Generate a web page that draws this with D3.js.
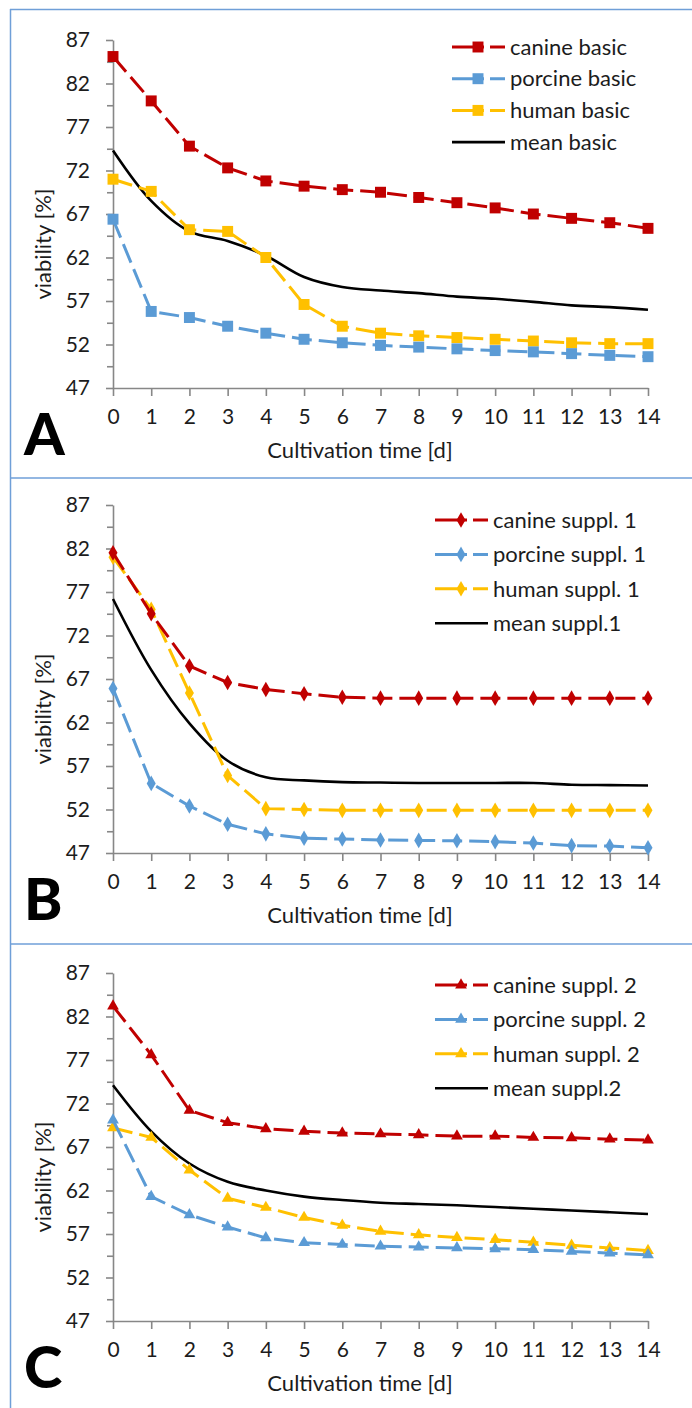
<!DOCTYPE html>
<html>
<head>
<meta charset="utf-8">
<script src="https://cdn.jsdelivr.net/npm/d3@7"></script>
<style>
  body { margin: 0; background: #fff; }
  svg { display: block; font-family: Lato, "Open Sans", sans-serif; }
</style>
</head>
<body>
<div id="datavis"></div>
<script>
// cultivation days and y ticks
const days = [0, 1, 2, 3, 4, 5, 6, 7, 8, 9, 10, 11, 12, 13, 14];
const yTicks = [47, 52, 57, 62, 67, 72, 77, 82, 87];

// A - basic medium
const canineBasic  = [85.1, 80.0, 74.8, 72.3, 70.8, 70.2, 69.8, 69.5, 68.9, 68.3, 67.7, 67.0, 66.5, 66.0, 65.35];
const porcineBasic = [66.4, 55.8, 55.1, 54.1, 53.3, 52.6, 52.2, 51.9, 51.7, 51.5, 51.3, 51.15, 50.95, 50.75, 50.6];
const humanBasic   = [71.0, 69.6, 65.2, 65.0, 62.0, 56.6, 54.1, 53.3, 53.0, 52.8, 52.6, 52.4, 52.2, 52.1, 52.1];
const meanBasic    = [74.3, 68.5, 65.0, 63.9, 62.2, 59.75, 58.6, 58.2, 57.9, 57.5, 57.25, 56.9, 56.5, 56.3, 56.0];

// B - supplement 1
const canineSuppl1  = [81.5, 74.5, 68.5, 66.6, 65.8, 65.3, 64.9, 64.8, 64.8, 64.8, 64.8, 64.8, 64.8, 64.8, 64.8];
const porcineSuppl1 = [65.9, 55.0, 52.4, 50.3, 49.2, 48.7, 48.6, 48.5, 48.45, 48.4, 48.3, 48.15, 47.85, 47.8, 47.6];
const humanSuppl1   = [81.0, 75.0, 65.4, 55.9, 52.1, 52.0, 51.9, 51.9, 51.9, 51.9, 51.9, 51.9, 51.9, 51.9, 51.9];
const meanSuppl1    = [76.2, 68.05, 61.9, 57.6, 55.7, 55.35, 55.15, 55.1, 55.05, 55.05, 55.05, 55.05, 54.85, 54.8, 54.75];

// C - supplement 2
const canineSuppl2  = [83.2, 77.6, 71.2, 69.8, 69.1, 68.8, 68.6, 68.5, 68.4, 68.25, 68.25, 68.1, 68.05, 67.9, 67.8];
const porcineSuppl2 = [70.1, 61.3, 59.2, 57.8, 56.55, 56.0, 55.8, 55.6, 55.5, 55.4, 55.3, 55.2, 55.0, 54.8, 54.6];
const humanSuppl2   = [69.2, 68.1, 64.35, 61.1, 60.05, 58.9, 58.0, 57.3, 56.9, 56.6, 56.35, 56.05, 55.7, 55.4, 55.1];
const meanSuppl2    = [74.1, 68.8, 65.1, 63.0, 62.0, 61.3, 60.9, 60.6, 60.45, 60.3, 60.1, 59.9, 59.7, 59.5, 59.3];

const RED = "#c00000", BLUE = "#5b9bd5", GOLD = "#ffc000";

const panels = [
  { letter: "A", top: 40, symbol: d3.symbolSquare, size: 120,
    legendX: 452, legendY: 47, legendStep: 31.7,
    series: [
      { name: "canine basic", values: canineBasic, color: RED },
      { name: "porcine basic", values: porcineBasic, color: BLUE },
      { name: "human basic", values: humanBasic, color: GOLD }],
    mean: { name: "mean basic", values: meanBasic } },
  { letter: "B", top: 505, symbol: d3.symbolDiamond, size: 70,
    legendX: 435, legendY: 520, legendStep: 34.4,
    series: [
      { name: "canine suppl. 1", values: canineSuppl1, color: RED },
      { name: "porcine suppl. 1", values: porcineSuppl1, color: BLUE },
      { name: "human suppl. 1", values: humanSuppl1, color: GOLD }],
    mean: { name: "mean suppl.1", values: meanSuppl1 } },
  { letter: "C", top: 973, symbol: d3.symbolTriangle, size: 60,
    legendX: 435, legendY: 985, legendStep: 34.4,
    series: [
      { name: "canine suppl. 2", values: canineSuppl2, color: RED },
      { name: "porcine suppl. 2", values: porcineSuppl2, color: BLUE },
      { name: "human suppl. 2", values: humanSuppl2, color: GOLD }],
    mean: { name: "mean suppl.2", values: meanSuppl2 } }
];

const W = 692, H = 1408;
const plotH = 348;

const svg = d3.select("#datavis")
  .append("svg")
  .attr("width", W)
  .attr("height", H);

// panel frame lines
const frame = svg.append("g")
  .attr("stroke", "#6f9fd8")
  .attr("stroke-width", 1.5)
  .attr("fill", "none");
frame.append("line").attr("x1", 10).attr("x2", W).attr("y1", 9.5).attr("y2", 9.5);
frame.append("line").attr("x1", 10.5).attr("x2", 10.5).attr("y1", 9).attr("y2", H);
frame.append("line").attr("x1", 10).attr("x2", W).attr("y1", 478).attr("y2", 478);
frame.append("line").attr("x1", 10).attr("x2", W).attr("y1", 944).attr("y2", 944);

const x = d3.scaleLinear().domain([0, 14]).range([113, 648]);
const minorTicks = yTicks.slice(1).map(v => v - 2.5);

panels.forEach(p => {
  const y = d3.scaleLinear().domain([47, 87]).range([p.top + plotH, p.top]);
  const g = svg.append("g");

  // y axis (major + minor ticks)
  g.append("g")
    .attr("transform", "translate(" + x(0) + ",0)")
    .call(d3.axisLeft(y).tickValues(yTicks).tickSize(7).tickSizeOuter(0).tickPadding(16));
  g.append("g")
    .attr("transform", "translate(" + x(0) + ",0)")
    .call(d3.axisLeft(y).tickValues(minorTicks).tickSize(6).tickFormat(""))
    .select(".domain").remove();

  // x axis
  g.append("g")
    .attr("transform", "translate(0," + y(47) + ")")
    .call(d3.axisBottom(x).tickValues(days).tickSize(8).tickSizeOuter(0).tickPadding(13));

  g.selectAll(".domain, .tick line")
    .attr("stroke", "#878787")
    .attr("stroke-width", 1.6);
  g.selectAll(".tick text")
    .attr("font-size", 21)
    .attr("font-family", "Lato, sans-serif")
    .attr("fill", "#1c1c1c");

  // axis titles
  g.append("text")
    .attr("x", 360)
    .attr("y", p.top + 418)
    .attr("text-anchor", "middle")
    .attr("font-size", 22)
    .attr("fill", "#1c1c1c")
    .text("Cultivation time [d]");
  g.append("text")
    .attr("transform", "translate(51," + (p.top + 204) + ") rotate(-90)")
    .attr("text-anchor", "middle")
    .attr("font-size", 22)
    .attr("fill", "#1c1c1c")
    .text("viability [%]");

  // panel letter
  g.append("text")
    .attr("x", 24)
    .attr("y", p.top + 415)
    .attr("font-size", 58)
    .attr("font-weight", 900)
    .attr("font-family", "Lato, sans-serif")
    .attr("fill", "#000")
    .text(p.letter);

  // mean line (smoothed, solid)
  const meanLine = d3.line()
    .x((d, i) => x(days[i]))
    .y(d => y(d))
    .curve(d3.curveCatmullRom.alpha(0.5));
  g.append("path")
    .datum(p.mean.values)
    .attr("fill", "none")
    .attr("stroke", "#000")
    .attr("stroke-width", 2.6)
    .attr("d", meanLine);

  // dashed series with markers
  const line = d3.line()
    .x((d, i) => x(days[i]))
    .y(d => y(d));
  const sym = d3.symbol().type(p.symbol).size(p.size);

  p.series.slice().reverse().forEach(s => {
    g.append("path")
      .datum(s.values)
      .attr("fill", "none")
      .attr("stroke", s.color)
      .attr("stroke-width", 3)
      .attr("stroke-dasharray", "20,7")
      .attr("d", line);
    g.append("g")
      .selectAll("path")
      .data(s.values)
      .join("path")
      .attr("transform", (d, i) => "translate(" + x(days[i]) + "," + y(d) + ")")
      .attr("d", sym)
      .attr("fill", s.color);
  });

  // legend
  const legendItems = p.series.concat([{ name: p.mean.name, color: "#000", mean: true }]);
  const lg = g.append("g")
    .attr("transform", "translate(" + p.legendX + "," + p.legendY + ")");
  const item = lg.selectAll("g")
    .data(legendItems)
    .join("g")
    .attr("transform", (d, i) => "translate(0," + (i * p.legendStep) + ")");
  item.each(function (d) {
    const it = d3.select(this);
    if (d.mean) {
      it.append("line").attr("x1", 0).attr("x2", 53)
        .attr("stroke", "#000").attr("stroke-width", 2.6);
    } else {
      it.append("line").attr("x1", 0).attr("x2", 53)
        .attr("stroke", d.color).attr("stroke-width", 3)
        .attr("stroke-dasharray", "32,6,15");
      it.append("path")
        .attr("transform", "translate(26,0)")
        .attr("d", sym)
        .attr("fill", d.color);
    }
    it.append("text")
      .attr("x", 58)
      .attr("dy", "0.35em")
      .attr("font-size", 22)
      .attr("fill", "#1c1c1c")
      .text(d.name);
  });
});
</script>
</body>
</html>
